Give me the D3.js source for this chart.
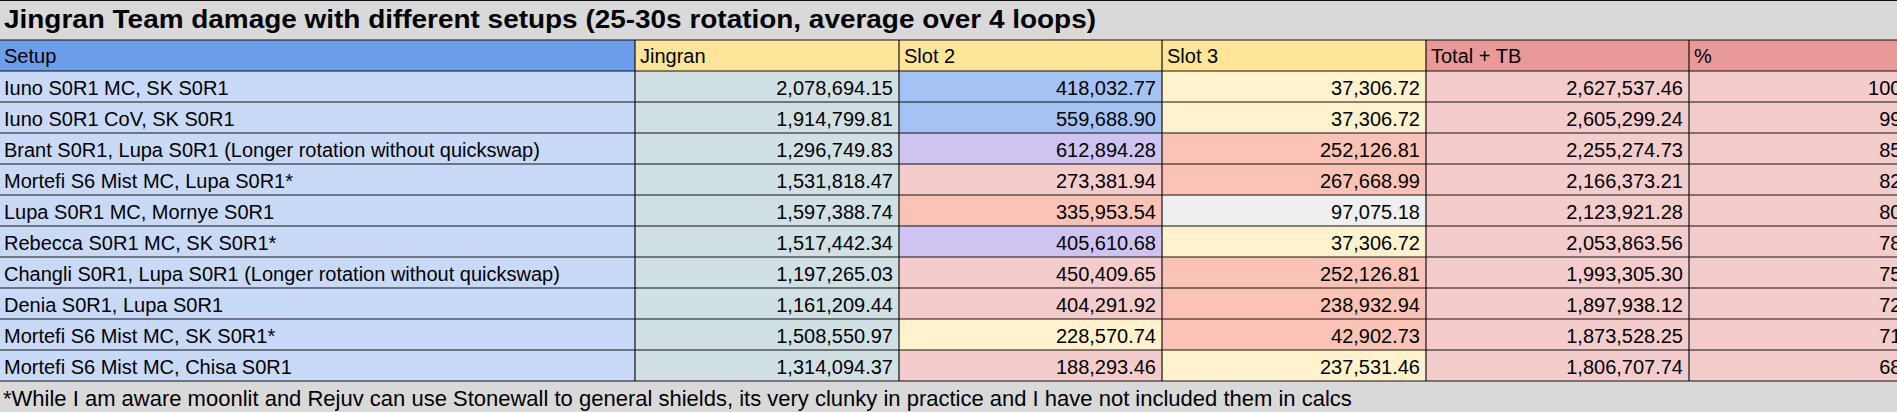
<!DOCTYPE html>
<html>
<head>
<meta charset="utf-8">
<script src="https://cdn.jsdelivr.net/npm/d3@7"></script>
<style>
  html, body { margin: 0; padding: 0; background: #fff; }
  svg { display: block; }
  text { font-family: "Liberation Sans", Arial, sans-serif; fill: #000; }
</style>
</head>
<body>
<script>
// data read from the sheet
const title = 'Jingran Team damage with different setups (25-30s rotation, average over 4 loops)';
const footnote = '*While I am aware moonlit and Rejuv can use Stonewall to general shields, its very clunky in practice and I have not included them in calcs';
const columns = ['Setup', 'Jingran', 'Slot 2', 'Slot 3', 'Total + TB', '%'];
const setups = [
  'Iuno S0R1 MC, SK S0R1',
  'Iuno S0R1 CoV, SK S0R1',
  'Brant S0R1, Lupa S0R1 (Longer rotation without quickswap)',
  'Mortefi S6 Mist MC, Lupa S0R1*',
  'Lupa S0R1 MC, Mornye S0R1',
  'Rebecca S0R1 MC, SK S0R1*',
  'Changli S0R1, Lupa S0R1 (Longer rotation without quickswap)',
  'Denia S0R1, Lupa S0R1',
  'Mortefi S6 Mist MC, SK S0R1*',
  'Mortefi S6 Mist MC, Chisa S0R1'
];
const jingran = [2078694.15, 1914799.81, 1296749.83, 1531818.47, 1597388.74, 1517442.34, 1197265.03, 1161209.44, 1508550.97, 1314094.37];
const slot2 = [418032.77, 559688.90, 612894.28, 273381.94, 335953.54, 405610.68, 450409.65, 404291.92, 228570.74, 188293.46];
const slot3 = [37306.72, 37306.72, 252126.81, 267668.99, 97075.18, 37306.72, 252126.81, 238932.94, 42902.73, 237531.46];
const total = [2627537.46, 2605299.24, 2255274.73, 2166373.21, 2123921.28, 2053863.56, 1993305.30, 1897938.12, 1873528.25, 1806707.74];
const pct = [100.00, 99.15, 85.83, 82.45, 80.83, 78.17, 75.86, 72.23, 71.30, 68.76];

// cell colours (conditional formatting of the sheet)
const slot2Fill = ['#a4c2f4', '#a4c2f4', '#cfc4f1', '#f4cccc', '#fbc3b6', '#cfc4f1', '#f4cccc', '#f4cccc', '#fff2cc', '#f4cccc'];
const slot3Fill = ['#fff2cc', '#fff2cc', '#fbc3b6', '#fbc3b6', '#efefef', '#fff2cc', '#fbc3b6', '#fbc3b6', '#fbc3b6', '#fff2cc'];

function renderTable() {
  const width = 1897, height = 412;
  const titleH = 40, headerTop = 40, rowsTop = 71, rowsBottom = 381;
  const colWidths = [635, 264, 263, 264, 263, 264];
  const headerFill = ['#6d9eeb', '#ffe599', '#ffe599', '#ffe599', '#ea9999', '#ea9999'];
  const bodyFill = [
    () => '#c9daf8',
    () => '#d0e0e3',
    i => slot2Fill[i],
    i => slot3Fill[i],
    () => '#f4cccc',
    () => '#f4cccc'
  ];

  // column edges
  const colX = [0];
  colWidths.forEach(w => colX.push(colX[colX.length - 1] + w));

  const y = d3.scaleBand()
    .domain(d3.range(setups.length))
    .range([rowsTop, rowsBottom]);

  const fmt = d3.format(',.2f');
  const rows = setups.map((s, i) => [s, fmt(jingran[i]), fmt(slot2[i]), fmt(slot3[i]), fmt(total[i]), d3.format('.2f')(pct[i]) + '%']);

  const svg = d3.select('body').append('svg')
    .attr('width', width)
    .attr('height', height);

  // title and footnote bars
  svg.append('rect').attr('x', 0).attr('y', 0).attr('width', width).attr('height', titleH).attr('fill', '#d9d9d9');
  svg.append('rect').attr('x', 0).attr('y', rowsBottom).attr('width', width).attr('height', height - rowsBottom).attr('fill', '#d9d9d9');

  svg.append('text')
    .attr('x', 4).attr('y', 28)
    .attr('font-size', '25px')
    .attr('font-weight', 'bold')
    .attr('textLength', 1092)
    .attr('lengthAdjust', 'spacingAndGlyphs')
    .text(title);

  svg.append('text')
    .attr('x', 3).attr('y', 406)
    .attr('font-size', '22px')
    .text(footnote);

  // header
  const header = svg.append('g');
  header.selectAll('rect')
    .data(columns)
    .enter().append('rect')
    .attr('x', (d, j) => colX[j])
    .attr('y', headerTop)
    .attr('width', (d, j) => colWidths[j])
    .attr('height', rowsTop - headerTop)
    .attr('fill', (d, j) => headerFill[j]);
  header.selectAll('text')
    .data(columns)
    .enter().append('text')
    .attr('x', (d, j) => colX[j] + (j === 0 ? 4 : 5))
    .attr('y', headerTop + 23)
    .attr('font-size', '20px')
    .text(d => d);

  // body cells
  const rowG = svg.selectAll('g.row')
    .data(rows)
    .enter().append('g')
    .attr('class', 'row')
    .attr('transform', (d, i) => `translate(0,${y(i)})`);

  rowG.selectAll('rect')
    .data((d, i) => d.map((v, j) => ({ v, i, j })))
    .enter().append('rect')
    .attr('x', d => colX[d.j])
    .attr('y', 0)
    .attr('width', d => colWidths[d.j])
    .attr('height', y.bandwidth())
    .attr('fill', d => bodyFill[d.j](d.i));

  rowG.selectAll('text')
    .data((d, i) => d.map((v, j) => ({ v, i, j })))
    .enter().append('text')
    .attr('x', d => d.j === 0 ? 4 : colX[d.j + 1] - 6)
    .attr('y', 23.5)
    .attr('text-anchor', d => d.j === 0 ? 'start' : 'end')
    .attr('font-size', '20px')
    .text(d => d.v);

  // grid lines
  const grid = svg.append('g').attr('stroke', '#111').attr('stroke-width', 1.2);
  const hLines = [0.5, headerTop, rowsTop].concat(d3.range(1, setups.length + 1).map(i => y(i - 1) + y.bandwidth()));
  grid.selectAll('line.h')
    .data(hLines)
    .enter().append('line')
    .attr('class', 'h')
    .attr('x1', 0).attr('x2', width)
    .attr('y1', d => d).attr('y2', d => d);
  grid.selectAll('line.v')
    .data(colX.slice(1, -1))
    .enter().append('line')
    .attr('class', 'v')
    .attr('x1', d => d).attr('x2', d => d)
    .attr('y1', headerTop).attr('y2', rowsBottom);
}

window.addEventListener('load', function() {
  requestAnimationFrame(renderTable);
});
</script>
</body>
</html>
